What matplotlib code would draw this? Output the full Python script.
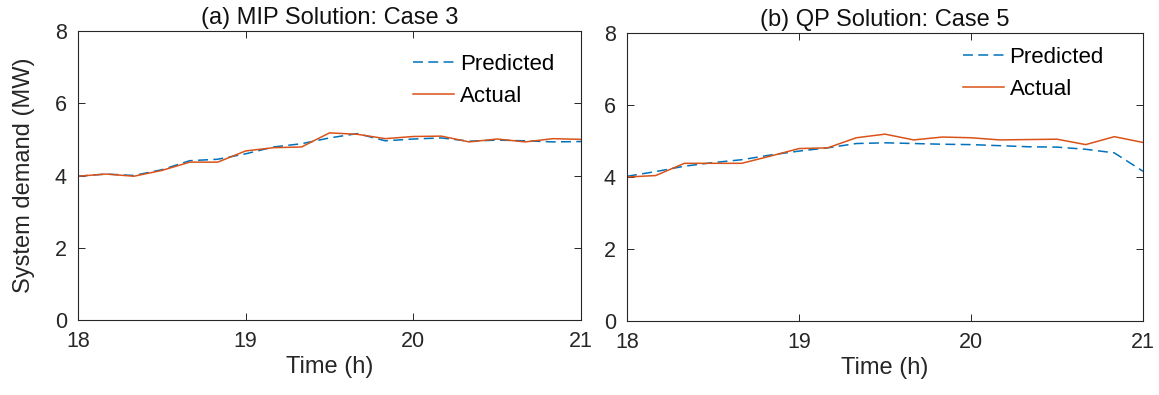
import numpy as np
import matplotlib
matplotlib.use("Agg")
import matplotlib.pyplot as plt

plt.rcParams['font.family'] = ['Liberation Sans', 'DejaVu Sans']

# Time axis: 10-minute steps from 18:00 to 21:00
hours = np.arange(19) / 6.0 + 18.0

# (a) MIP solution, case 3
mip_predicted = [3.98, 4.04, 4.00, 4.16, 4.41, 4.45, 4.60, 4.79, 4.88, 5.04,
                 5.16, 4.96, 5.01, 5.04, 4.95, 4.98, 4.96, 4.93, 4.94]
mip_actual = [3.98, 4.04, 3.98, 4.14, 4.37, 4.37, 4.68, 4.77, 4.79, 5.18,
              5.14, 5.02, 5.08, 5.09, 4.93, 5.01, 4.93, 5.02, 5.00]

# (b) QP solution, case 5
qp_predicted = [4.02, 4.15, 4.30, 4.40, 4.48, 4.61, 4.72, 4.81, 4.93, 4.95,
                4.93, 4.91, 4.90, 4.87, 4.84, 4.83, 4.77, 4.67, 4.16]
qp_actual = [4.00, 4.04, 4.38, 4.38, 4.38, 4.58, 4.79, 4.81, 5.09, 5.19,
             5.03, 5.11, 5.09, 5.03, 5.04, 5.05, 4.90, 5.12, 4.96]

titles = ["(a) MIP Solution: Case 3", "(b) QP Solution: Case 5"]
series_labels = ["Predicted", "Actual"]
x_ticks = [18, 19, 20, 21]
y_ticks = [0, 2, 4, 6, 8]

BLUE = "#0072BD"
ORANGE = "#D95319"
AXIS_GRAY = "#262626"

W, H = 1159, 395
fig = plt.figure(figsize=(W / 100, H / 100), dpi=100)

# axes boxes in pixels: (left, top, right, bottom)
boxes = [(78, 31, 581, 320), (627, 33, 1143, 321)]
legend_anchor = [(0.666, 0.828), (0.651, 0.86)]

panels = [(mip_predicted, mip_actual), (qp_predicted, qp_actual)]

for i, ((l, t, r, b), (pred, act)) in enumerate(zip(boxes, panels)):
    ax = fig.add_axes([l / W, 1 - b / H, (r - l) / W, (b - t) / H])
    ax.plot(hours, pred, color=BLUE, lw=1.1, linestyle=(0, (6.5, 3.5)),
            label=series_labels[0])
    ax.plot(hours, act, color=ORANGE, lw=1.1, label=series_labels[1])
    ax.set_xlim(18, 21)
    ax.set_ylim(0, 8)
    ax.set_xticks(x_ticks)
    ax.set_yticks(y_ticks)
    ax.tick_params(direction='in', length=5, width=0.7, colors=AXIS_GRAY,
                   labelsize=15.5, top=True, right=True, pad=8)
    for s in ax.spines.values():
        s.set_color(AXIS_GRAY)
        s.set_linewidth(0.8)
    ax.set_title(titles[i], fontsize=17, color="#111111", pad=5)
    ax.set_xlabel("Time (h)", fontsize=17, color="#262626", labelpad=3)
    if i == 0:
        ax.set_ylabel("System demand (MW)", fontsize=17, color="#262626",
                      labelpad=14)
    leg = ax.legend(loc='center left', bbox_to_anchor=legend_anchor[i],
                    frameon=False, fontsize=16, handlelength=1.85,
                    handletextpad=0.25, borderpad=0, borderaxespad=0,
                    labelspacing=0.5)

fig.savefig("out.png", dpi=100)
